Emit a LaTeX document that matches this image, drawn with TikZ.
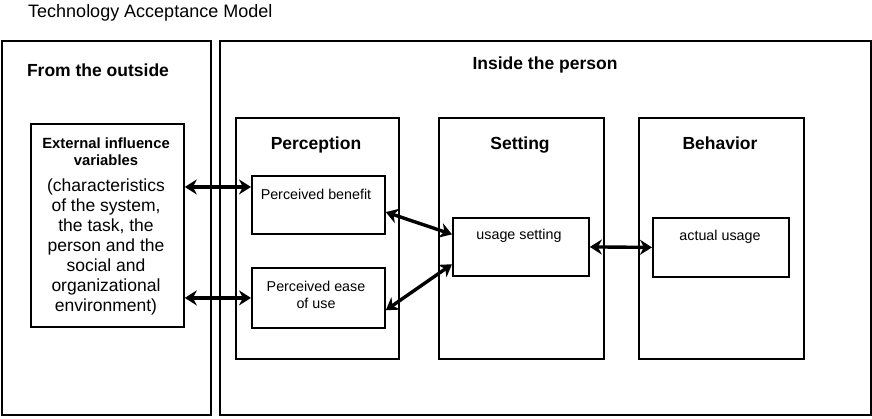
\documentclass[tikz,border=0pt]{standalone}
\usepackage{fontspec}
\setmainfont{Liberation Sans}
\usetikzlibrary{arrows.meta,calc}
\begin{document}
\begin{tikzpicture}[x=1pt,y=-1pt,
  box/.style={draw, line width=1.8pt, inner sep=0pt, anchor=north west},
  link/.style={line width=3.4pt, {Stealth[length=12pt,width=15pt]}-{Stealth[length=12pt,width=15pt]}},
  head/.style={font=\fontsize{17.5}{20}\selectfont\bfseries, inner sep=0pt, anchor=base},
  lbl/.style={font=\fontsize{14.3}{17}\selectfont, inner sep=0pt, align=center}
]
\useasboundingbox (0,0) rectangle (872,418);
% title
\node[anchor=west, inner sep=0pt, font=\fontsize{18}{20}\selectfont] (title) at (28,13) {Technology Acceptance Model};
% outer boxes
\node[box, minimum width=209pt, minimum height=374pt] (outside) at (1,40) {};
\node[box, minimum width=651pt, minimum height=374pt] (inside) at (219,40) {};
\node[head] (outsidelbl) at (98,76) {From the outside};
\node[head] (insidelbl) at (545,69.5) {Inside the person};
% columns
\node[box, minimum width=163pt, minimum height=241pt] (perc) at (235,117) {};
\node[box, minimum width=165pt, minimum height=241pt] (sett) at (438,117) {};
\node[box, minimum width=165pt, minimum height=241pt] (behv) at (638,117) {};
\node[head] (perclbl) at (316,149.5) {Perception};
\node[head] (settlbl) at (520,149.5) {Setting};
\node[head] (behvlbl) at (720,149.5) {Behavior};
% external box
\node[box, minimum width=153pt, minimum height=203pt] (ext) at (30,123) {};
\node[inner sep=0pt, align=center, font=\fontsize{14.8}{17}\selectfont\bfseries] (exthead) at (106,151.5) {External influence\\variables};
\node[inner sep=0pt, align=center, font=\fontsize{17.5}{20}\selectfont] (exttext) at (106,246.5) {(characteristics\\of the system,\\the task, the\\person and the\\social and\\organizational\\environment)};
% inner boxes
\node[box, minimum width=133pt, minimum height=58pt] (ben) at (251,175) {};
\node[lbl] (benlbl) at (316,194) {Perceived benefit};
\node[box, minimum width=133pt, minimum height=60pt] (ease) at (251,267) {};
\node[lbl] (easelbl) at (316,294.5) {Perceived ease\\of use};
\node[box, minimum width=136pt, minimum height=58pt] (use) at (452,217) {};
\node[lbl] (uselbl) at (519,236) {usage setting};
\node[box, minimum width=136pt, minimum height=59pt] (act) at (652,217) {};
\node[lbl] (actlbl) at (720,237) {actual usage};
% connectors
\coordinate (b1) at ($(ben.north west)!0.2!(ben.south west)$);
\draw[link] (ext.east |- b1) -- (b1);
\draw[link] (ext.east |- ease.west) -- (ease.west);
\draw[link] ($(ben.north east)!0.62!(ben.south east)$) -- ($(use.north west)!0.29!(use.south west)$);
\draw[link] ($(ease.north east)!0.7!(ease.south east)$) -- ($(use.north west)!0.79!(use.south west)$);
\draw[link] (use.east) -- (act.west);
\end{tikzpicture}
\end{document}
